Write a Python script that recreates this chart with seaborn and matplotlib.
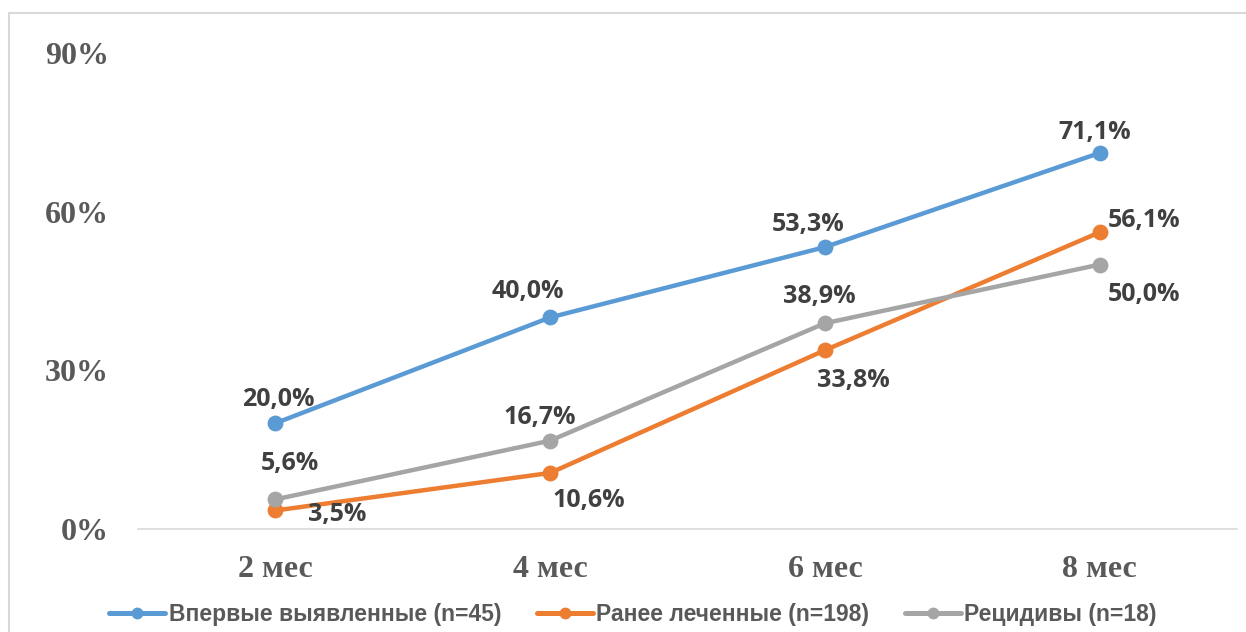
import matplotlib
matplotlib.use("Agg")
import matplotlib.pyplot as plt
import seaborn as sns
import pandas as pd
from matplotlib.patches import Rectangle

# Share of patients by treatment month
months = ["2 мес", "4 мес", "6 мес", "8 мес"]
series_names = ["Впервые выявленные (n=45)", "Ранее леченные (n=198)", "Рецидивы (n=18)"]
new_cases = [20.0, 40.0, 53.3, 71.1]
previously_treated = [3.5, 10.6, 33.8, 56.1]
relapses = [5.6, 16.7, 38.9, 50.0]
y_ticks = [0, 30, 60, 90]

colors = ["#5B9BD5", "#ED7D31", "#A5A5A5"]

df = pd.concat([
    pd.DataFrame({"month": months, "value": vals, "group": name})
    for name, vals in zip(series_names, [new_cases, previously_treated, relapses])
], ignore_index=True)

sns.set_theme(style="white")
plt.rcParams["font.family"] = ["Liberation Serif", "DejaVu Serif"]

W, H = 1246, 632
fig = plt.figure(figsize=(W / 100, H / 100), dpi=100)
ax = fig.add_axes([138 / W, 1 - 529 / H, (1237 - 138) / W, (529 - 53) / H])

sns.pointplot(
    data=df, x="month", y="value", hue="group", order=months,
    hue_order=series_names, palette=colors, markers="o", linestyles="-",
    linewidth=3.2, markersize=9, errorbar=None, ax=ax, legend=False,
)

ax.set_xlim(-0.5, len(months) - 0.5)
ax.set_ylim(0, 90)
ax.set_yticks(y_ticks)
ax.set_yticklabels([f"{t}%" for t in y_ticks])
ax.set_xlabel("")
ax.set_ylabel("")
for s in ["top", "right", "left"]:
    ax.spines[s].set_visible(False)
ax.spines["bottom"].set_color("#D9D9D9")
ax.spines["bottom"].set_linewidth(1.2)
ax.tick_params(axis="both", length=0, labelsize=23, labelcolor="#595959")
ax.tick_params(axis="y", pad=21)
ax.tick_params(axis="x", pad=19)
for lab in ax.get_xticklabels() + ax.get_yticklabels():
    lab.set_fontweight("bold")
    lab.set_family(["Liberation Serif", "DejaVu Serif"])
ax.grid(False)

# Value labels, offsets in pixels from each marker (centre of the digits)
offsets = [
    [(3, 26), (-22, 28), (-17, 25), (-5, 23)],
    [(62, -2), (39, -25), (28, -28), (44, 14)],
    [(15, 38), (-10, 26), (-6, 29), (44, -27)],
]
for vals, offs in zip([new_cases, previously_treated, relapses], offsets):
    for i, (v, (dx, dy)) in enumerate(zip(vals, offs)):
        ax.annotate(
            f"{v:.1f}%".replace(".", ","), xy=(i, v), xytext=(dx, dy - 9),
            textcoords="offset pixels", ha="center", va="baseline",
            fontsize=18, fontweight="bold", color="#404040",
            family=["Open Sans", "DejaVu Sans"],
        )

# Legend
handles = [
    plt.Line2D([], [], color=c, lw=3.6, marker="o", markersize=7.5)
    for c in colors
]
leg = fig.legend(
    handles, series_names, loc="center", bbox_to_anchor=(633 / W, 1 - 615 / H),
    ncol=3, frameon=False, handlelength=2.45, handletextpad=0.15,
    columnspacing=1.55, borderaxespad=0,
    prop={"family": ["Liberation Sans", "DejaVu Sans"], "weight": "bold", "size": 16.5},
)
for t in leg.get_texts():
    t.set_color("#595959")

# Chart area border
fig.add_artist(Rectangle(
    (9 / W, -0.5), 2, (1 - 13 / H) + 0.5, transform=fig.transFigure,
    fill=False, edgecolor="#D9D9D9", linewidth=1.5,
))

fig.savefig("out.png", dpi=100, facecolor="white")
